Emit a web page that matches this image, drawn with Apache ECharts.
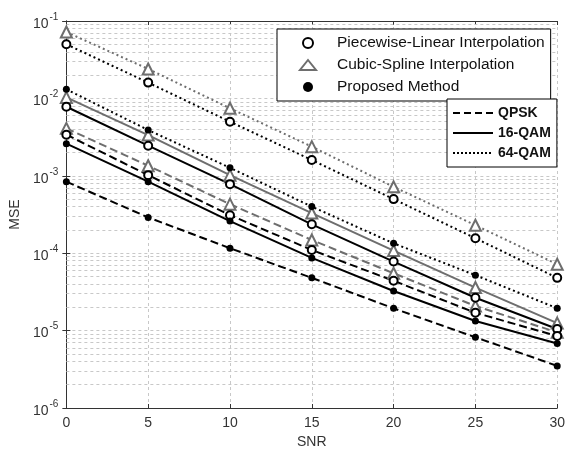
<!DOCTYPE html>
<html>
<head>
<meta charset="utf-8">
<script src="https://cdn.jsdelivr.net/npm/echarts@6/dist/echarts.min.js"></script>
<style>html,body{margin:0;padding:0;background:#fff;}#chart{width:568px;height:454px;}</style>
</head>
<body>
<div id="chart"></div>
<script>
// ---- data ----
var snr = [0, 5, 10, 15, 20, 25, 30];
var plQpsk  = [3.4e-3, 1.02e-3, 3.1e-4, 1.1e-4, 4.4e-5, 1.7e-5, 8.5e-6];
var pl16qam = [7.8e-3, 2.45e-3, 7.8e-4, 2.36e-4, 7.8e-5, 2.66e-5, 1.05e-5];
var pl64qam = [5.0e-2, 1.6e-2, 5.0e-3, 1.6e-3, 5.0e-4, 1.56e-4, 4.8e-5];
var csQpsk  = [4.1e-3, 1.35e-3, 4.3e-4, 1.48e-4, 5.5e-5, 2.08e-5, 9.5e-6];
var cs16qam = [1.03e-2, 3.36e-3, 1.02e-3, 3.3e-4, 1.08e-4, 3.6e-5, 1.25e-5];
var cs64qam = [7.2e-2, 2.4e-2, 7.45e-3, 2.38e-3, 7.2e-4, 2.3e-4, 7.2e-5];
var pmQpsk  = [8.4e-4, 2.9e-4, 1.16e-4, 4.8e-5, 1.94e-5, 8.2e-6, 3.5e-6];
var pm16qam = [2.6e-3, 8.4e-4, 2.6e-4, 8.7e-5, 3.25e-5, 1.33e-5, 6.8e-6];
var pm64qam = [1.31e-2, 3.9e-3, 1.27e-3, 4.0e-4, 1.34e-4, 5.2e-5, 1.94e-5];
var methodNames = ['Piecewise-Linear Interpolation', 'Cubic-Spline Interpolation', 'Proposed Method'];
var modNames = ['QPSK', '16-QAM', '64-QAM'];
var decadeExps = [-6, -5, -4, -3, -2];
var minorMult = [2, 3, 4, 5, 6, 7, 8, 9];
var snrRange = [0, 30];

// ---- styles ----
var BLACK = '#000000', GRAY = '#6e6e6e';
var FONT = 'Liberation Sans, Arial, sans-serif';
var lineTypes = {QPSK: [8, 4], '16-QAM': 'solid', '64-QAM': [2, 3]};

function pairs(arr) { return snr.map(function (x, i) { return [x, arr[i]]; }); }

// minor grid lines (2..9 x 10^e), drawn as horizontal segments through the axes
var minorGrid = [];
decadeExps.forEach(function (e) {
  minorMult.forEach(function (m) {
    var v = m * Math.pow(10, e);
    minorGrid.push({coords: [[snrRange[0], v], [snrRange[1], v]]});
  });
});

function mk(name, arr, mod, method) {
  var color = method === 'cs' ? GRAY : BLACK;
  var s = {
    name: name, type: 'line', data: pairs(arr), z: 3, showSymbol: true, showAllSymbol: true,
    lineStyle: {color: color, width: 2, type: lineTypes[mod]},
    itemStyle: {color: color, borderColor: color, borderWidth: 2.5},
    emphasis: {disabled: true}, animation: false
  };
  if (method === 'pl') { s.symbol = 'emptyCircle'; s.symbolSize = 8; }
  if (method === 'cs') { s.symbol = 'emptyTriangle'; s.symbolSize = 11; }
  if (method === 'pm') { s.symbol = 'circle'; s.symbolSize = 7; s.itemStyle.borderWidth = 0; }
  return s;
}

var series = [
  {name: 'minor-grid', type: 'lines', coordinateSystem: 'cartesian2d', z: 1, silent: true,
   polyline: false, effect: {show: false}, animation: false,
   lineStyle: {color: '#c8c8c8', type: [3, 3], width: 1, opacity: 1}, data: minorGrid},
  mk('cs-64', cs64qam, '64-QAM', 'cs'),
  mk('cs-16', cs16qam, '16-QAM', 'cs'),
  mk('cs-qpsk', csQpsk, 'QPSK', 'cs'),
  mk('pl-64', pl64qam, '64-QAM', 'pl'),
  mk('pl-16', pl16qam, '16-QAM', 'pl'),
  mk('pl-qpsk', plQpsk, 'QPSK', 'pl'),
  mk('pm-64', pm64qam, '64-QAM', 'pm'),
  mk('pm-16', pm16qam, '16-QAM', 'pm'),
  mk('pm-qpsk', pmQpsk, 'QPSK', 'pm'),
  // legend-only series
  {name: methodNames[0], type: 'line', data: [], itemStyle: {color: BLACK}},
  {name: methodNames[1], type: 'line', data: [], itemStyle: {color: GRAY}},
  {name: methodNames[2], type: 'line', data: [], itemStyle: {color: BLACK}},
  {name: modNames[0], type: 'line', data: [], symbol: 'none', symbolSize: 0, itemStyle: {color: BLACK}, lineStyle: {color: BLACK, width: 2.5, type: [7, 4]}},
  {name: modNames[1], type: 'line', data: [], symbol: 'none', symbolSize: 0, itemStyle: {color: BLACK}, lineStyle: {color: BLACK, width: 2.5, type: 'solid'}},
  {name: modNames[2], type: 'line', data: [], symbol: 'none', symbolSize: 0, itemStyle: {color: BLACK}, lineStyle: {color: BLACK, width: 2.5, type: [2, 2]}}
];

var option = {
  animation: false,
  backgroundColor: '#fff',
  textStyle: {fontFamily: FONT},
  grid: {left: 63, right: 8, top: 21, bottom: 46},
  legend: [
    {data: [{name: methodNames[0], icon: 'emptyCircle'}, {name: methodNames[1], icon: 'emptyTriangle'}, {name: methodNames[2], icon: 'circle'}],
     orient: 'vertical', left: 277, top: 29, padding: [6, 6, 6, 22], itemGap: 6,
     itemWidth: 16, itemHeight: 10, selectedMode: false,
     backgroundColor: '#fff', borderColor: '#000', borderWidth: 1,
     textStyle: {fontSize: 15.5, color: '#111', lineHeight: 14, padding: [0, 0, 0, 16], fontFamily: FONT}},
    {data: modNames, orient: 'vertical', left: 447, top: 99, padding: [7, 6, 7, 5], itemGap: 6,
     itemWidth: 40, itemHeight: 14, selectedMode: false,
     itemStyle: {opacity: 0},
     backgroundColor: '#fff', borderColor: '#000', borderWidth: 1,
     textStyle: {fontSize: 14, fontWeight: 'bold', color: '#111', lineHeight: 14, fontFamily: FONT}}
  ],
  xAxis: [
    {type: 'value', min: 0, max: 30, interval: 5, name: 'SNR', nameLocation: 'middle', nameGap: 26,
     nameTextStyle: {fontSize: 14, color: '#333', fontFamily: FONT},
     axisLine: {lineStyle: {color: '#333', width: 1}},
     axisTick: {inside: true, length: 4, lineStyle: {color: '#333'}},
     axisLabel: {fontSize: 14, color: '#333', margin: 8, fontFamily: FONT},
     splitLine: {show: true, lineStyle: {color: '#c8c8c8', type: [3, 3], width: 1}}},
    {type: 'value', min: 0, max: 30, interval: 5, position: 'top',
     axisLine: {show: true, lineStyle: {color: '#333', width: 1}},
     axisTick: {show: true, inside: true, length: 4, lineStyle: {color: '#333'}},
     axisLabel: {show: false}, splitLine: {show: false}}
  ],
  yAxis: [
    {type: 'log', logBase: 10, min: 1e-6, max: 1e-1, name: 'MSE', nameLocation: 'middle', nameGap: 42,
     nameTextStyle: {fontSize: 14, color: '#333', fontFamily: FONT},
     axisLine: {show: true, lineStyle: {color: '#333', width: 1}},
     axisTick: {show: true, inside: true, length: 4, lineStyle: {color: '#333'}},
     axisLabel: {color: '#333', margin: 8, fontFamily: FONT,
       formatter: function (v) { return '{b|10}{s|' + Math.round(Math.log10(v)) + '}'; },
       rich: {b: {fontSize: 14, color: '#333', fontFamily: FONT, padding: [6, 0, 0, 0]},
              s: {fontSize: 10, color: '#333', fontFamily: FONT, padding: [0, 0, 8, 1]}}},
     splitLine: {show: true, lineStyle: {color: '#c8c8c8', type: [3, 3], width: 1}}},
    {type: 'log', logBase: 10, min: 1e-6, max: 1e-1, position: 'right',
     axisLine: {show: true, lineStyle: {color: '#333', width: 1}},
     axisTick: {show: true, inside: true, length: 4, lineStyle: {color: '#333'}},
     axisLabel: {show: false}, splitLine: {show: false}}
  ],
  series: series
};

var chart = echarts.init(document.getElementById('chart'), null, {renderer: 'canvas'});
chart.setOption(option);
</script>
</body>
</html>
